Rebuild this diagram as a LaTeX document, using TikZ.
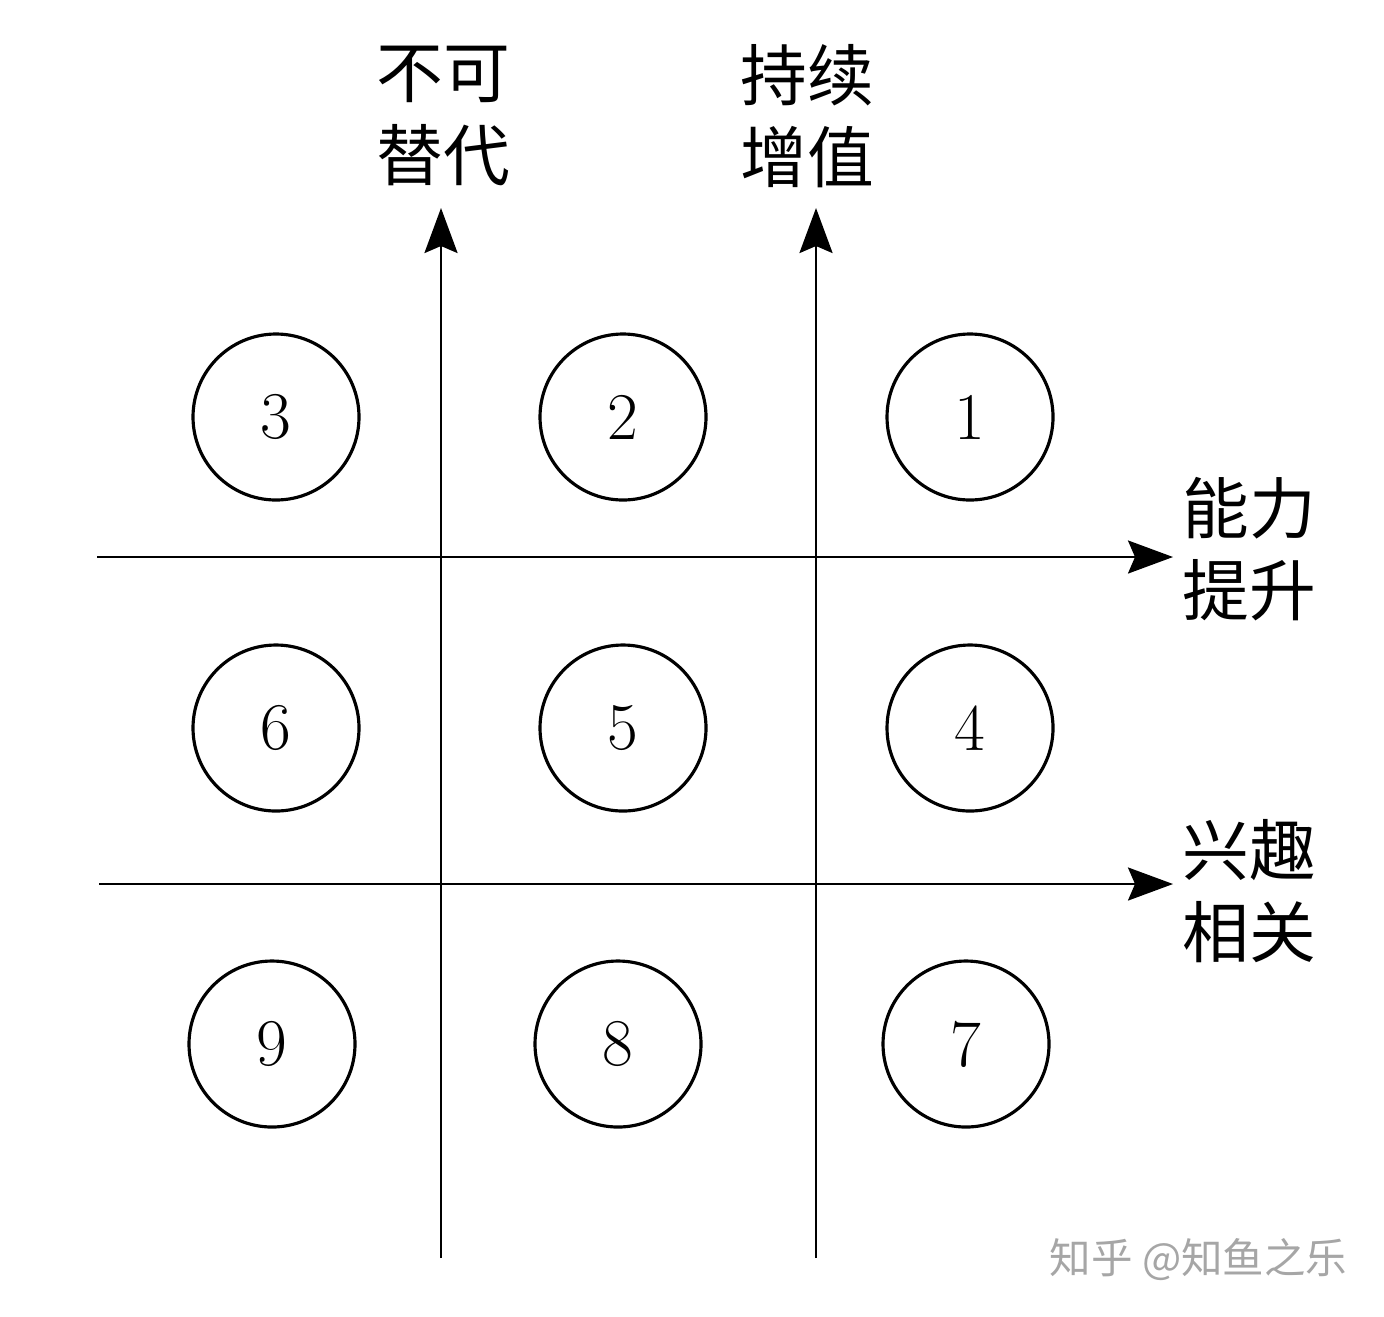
\documentclass[tikz,border=0pt]{standalone}
\usepackage{fontspec}
\newfontfamily\cjk{Noto Sans CJK SC}
\usetikzlibrary{arrows.meta,positioning}

\begin{document}
\begin{tikzpicture}[>={Stealth[length=0.45cm,width=0.33cm,inset=0.07cm]},every node/.style={inner sep=0pt},
numcircle/.style={draw,circle,line width=0.9pt,minimum size=1.66cm,font=\fontsize{19}{23}\selectfont},
axislabel/.style={align=center,font=\cjk\fontsize{19}{23.5}\selectfont},
axis/.style={->,line width=0.75pt}]
\useasboundingbox (0,0) rectangle (13.84,-13.16);
% numbered circles
\node[numcircle](c1) at (9.70,-4.17){1};
\node[numcircle](c2) at (6.23,-4.17){2};
\node[numcircle](c3) at (2.76,-4.17){3};
\node[numcircle](c4) at (9.70,-7.28){4};
\node[numcircle](c5) at (6.23,-7.28){5};
\node[numcircle](c6) at (2.76,-7.28){6};
\node[numcircle](c7) at (9.66,-10.44){7};
\node[numcircle](c8) at (6.18,-10.44){8};
\node[numcircle](c9) at (2.72,-10.44){9};
% axes
\coordinate (v1s) at (4.41,-12.58); \coordinate (v1e) at (4.41,-2.08);
\coordinate (v2s) at (8.16,-12.58); \coordinate (v2e) at (8.16,-2.08);
\coordinate (h1s) at (0.97,-5.57); \coordinate (h1e) at (11.73,-5.57);
\coordinate (h2s) at (0.99,-8.84); \coordinate (h2e) at (11.73,-8.84);
\draw[axis](v1s)--(v1e); \draw[axis](v2s)--(v2e); \draw[axis](h1s)--(h1e); \draw[axis](h2s)--(h2e);
% axis labels
\node[axislabel](buketidai) at (4.43,-1.16){不可\\替代};
\node[axislabel](chixu) at (8.07,-1.16){持续\\增值};
\node[axislabel](nengli) at (12.49,-5.49){能力\\提升};
\node[axislabel](xingqu) at (12.49,-8.91){兴趣\\相关};
\node[text=black!35,anchor=east,font=\cjk\fontsize{11.8}{14}\selectfont](mark) at (13.48,-12.60){知乎 @知鱼之乐};
\end{tikzpicture}
\end{document}
